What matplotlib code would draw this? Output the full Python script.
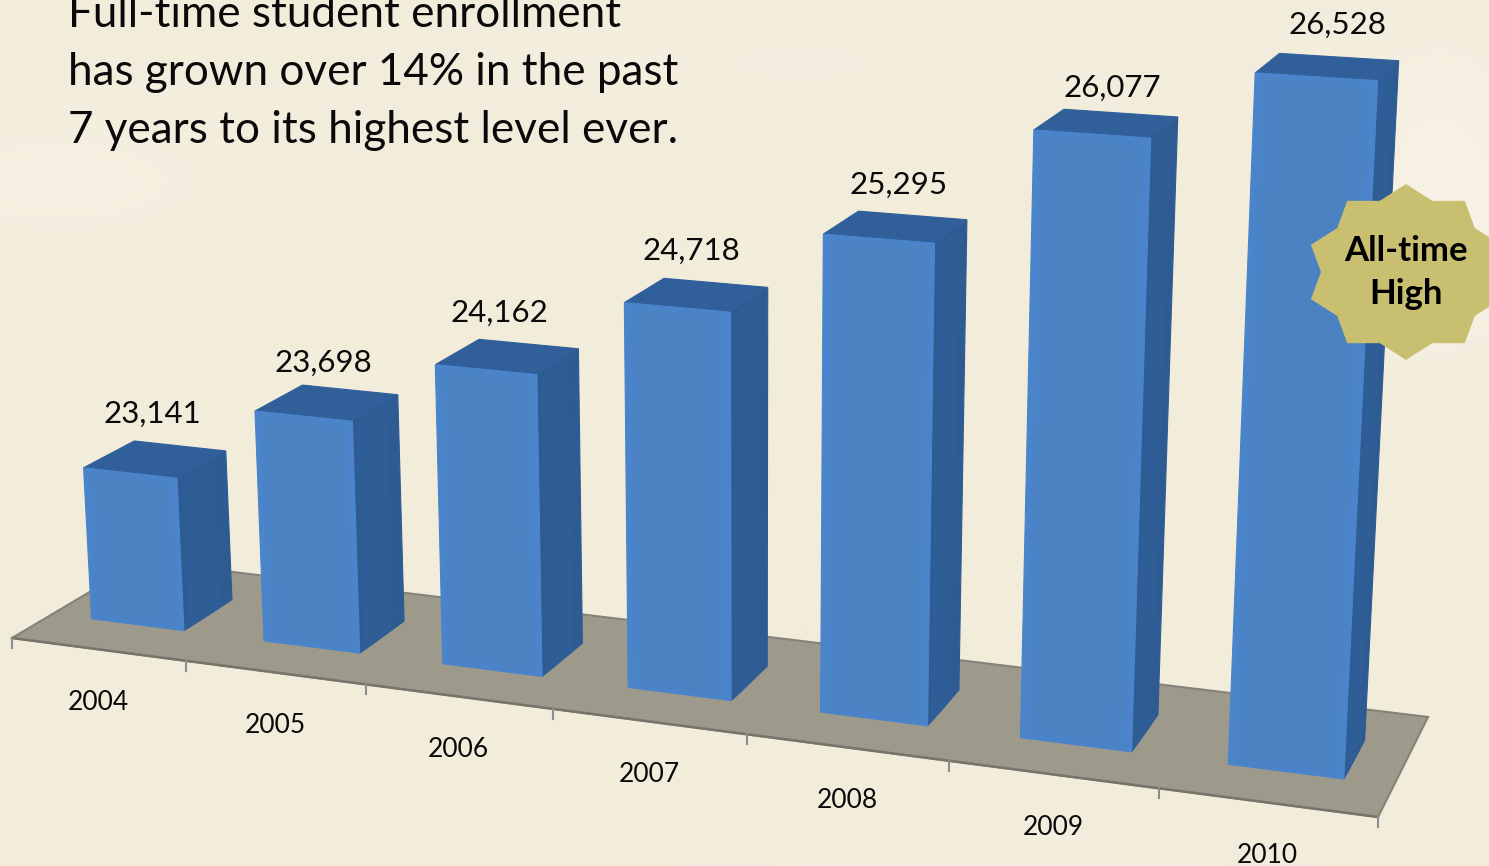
import numpy as np
from matplotlib import pyplot as plt
from matplotlib.patches import Polygon

years = ['2004', '2005', '2006', '2007', '2008', '2009', '2010']
enrollment = [23141, 23698, 24162, 24718, 25295, 26077, 26528]
title_lines = ['Full-time student enrollment', 'has grown over 14% in the past', '7 years to its highest level ever.']
badge_lines = ['All-time', 'High']

plt.rcParams['font.family'] = ['Lato', 'DejaVu Sans']

axis_min = 22000.0
nbars = len(years)

# camera: floor square (0..1, 0..1) plus height column, found from the floor corners
cam = np.array([[1193.3, 139.5, -8.05, 12.0],
                [76.6, -39.4, -139.5, 638.0],
                [-0.12535, 0.06708, -0.01073, 1.0]])

def proj(x, y, z=0.0):
    # x in category slots, y depth 0..1, z thousands above the axis minimum
    p = cam.dot(np.array([x/nbars, y, z, 1.0]))
    return p[0]/p[2], p[1]/p[2]

fig = plt.figure(figsize=(14.89, 8.66), dpi=100)
ax = fig.add_axes([0, 0, 1, 1])

# background, cream with soft lighter patches
yy, xx = np.mgrid[0:866:4, 0:1489:4]
glow = (0.9*np.exp(-(((xx-1440)/110.0)**2+((yy-200)/170.0)**2))
        + 0.5*np.exp(-(((xx-60)/260.0)**2+((yy-180)/90.0)**2))
        + 0.4*np.exp(-(((xx-800)/320.0)**2+((yy-60)/70.0)**2))
        + 0.25*np.exp(-(((xx-1000)/300.0)**2+((yy-860)/40.0)**2)))
glow = np.clip(glow, 0, 1)[..., None]
bg = np.array([242, 236, 219])/255.0*(1-glow) + np.array([249, 243, 232])/255.0*glow
ax.imshow(bg, extent=(0, 1489, 866, 0), aspect='auto', interpolation='bicubic', zorder=0)

# floor
floor = [proj(0, 0), proj(nbars, 0), proj(nbars, 1), proj(0, 1)]
ax.add_patch(Polygon(floor, closed=True, facecolor='#9d998b', edgecolor='#85827a', lw=1.5, zorder=1))
front_edge = [proj(0, 0), proj(nbars, 0)]
ax.plot(*zip(*front_edge), color='#77746a', lw=1.8, zorder=2)
for i in range(nbars+1):
    tx, ty = proj(i, 0)
    ax.plot([tx, tx], [ty, ty+10], color='#8d8d8d', lw=1.5, zorder=2)

gap = 0.23
y0 = 0.30
y1 = 0.69

def quad(pts, color, z):
    ax.add_patch(Polygon(pts, closed=True, facecolor=color, edgecolor=color, lw=0.8, zorder=z))

label_dx = [-3, -4, -8.5, -5.7, 3, 5.6, 9.4]
label_dy = [45.5, 40.5, 44.2, 44.5, 42.5, 36, 42]

for i, val in enumerate(enrollment):
    h = (val-axis_min)/1000.0
    xl = i+gap
    xr = i+1-gap
    z = 3+i
    # right side
    quad([proj(xr, y0), proj(xr, y1), proj(xr, y1, h), proj(xr, y0, h)], '#2d5b92', z)
    quad([proj(xr, y0+0.04), proj(xr, y1-0.1), proj(xr, y1-0.1, h-0.03), proj(xr, y0+0.04, h-0.03)], '#2f5e96', z)
    # top
    quad([proj(xl, y0, h), proj(xr, y0, h), proj(xr, y1, h), proj(xl, y1, h)], '#305f99', z)
    # front, a little brighter towards the rim
    quad([proj(xl, y0), proj(xr, y0), proj(xr, y0, h), proj(xl, y0, h)], '#4a84cb', z)
    quad([proj(xl+0.03, y0, 0.02), proj(xr-0.03, y0, 0.02), proj(xr-0.03, y0, h-0.02), proj(xl+0.03, y0, h-0.02)], '#4b83c7', z)
    quad([proj(xl+0.07, y0, 0.05), proj(xr-0.07, y0, 0.05), proj(xr-0.07, y0, h-0.05), proj(xl+0.07, y0, h-0.05)], '#4c81c2', z)
    # value label above the bar
    cx, cy = proj(i+0.5, (y0+y1)/2, h)
    ax.text(cx+label_dx[i], cy-label_dy[i], f'{val:,}', ha='center', va='center', fontsize=22.5, color='#0a0a0a', zorder=20)
    # category label under the floor
    mx, my = proj(i+0.5, 0)
    ax.text(mx, my+53, years[i], ha='center', va='center', fontsize=19, color='#0a0a0a', zorder=20)

for i, line in enumerate(title_lines):
    ax.text(68, 85+58*(i-1), line, ha='left', va='baseline', fontsize=31.7, color='#0a0a0a', zorder=20)

# badge, ten pointed star cut by the page edge
ang = np.deg2rad(np.arange(20)*18.0)
rad = np.where(np.arange(20) % 2 == 0, 1.0, 0.85)
star_x = 1406+100*rad*np.sin(ang)
star_y = 272-88*rad*np.cos(ang)
ax.add_patch(Polygon(np.column_stack([star_x, star_y]), closed=True, facecolor='#c9bf70', edgecolor='none', zorder=15))
ax.text(1406, 251, badge_lines[0], ha='center', va='center', fontsize=25, fontweight='bold', color='#000000', zorder=20)
ax.text(1406, 294, badge_lines[1], ha='center', va='center', fontsize=25, fontweight='bold', color='#000000', zorder=20)

ax.set_xlim(0, 1489)
ax.set_ylim(866, 0)
ax.axis('off')
fig.savefig('out.png', dpi=100)
